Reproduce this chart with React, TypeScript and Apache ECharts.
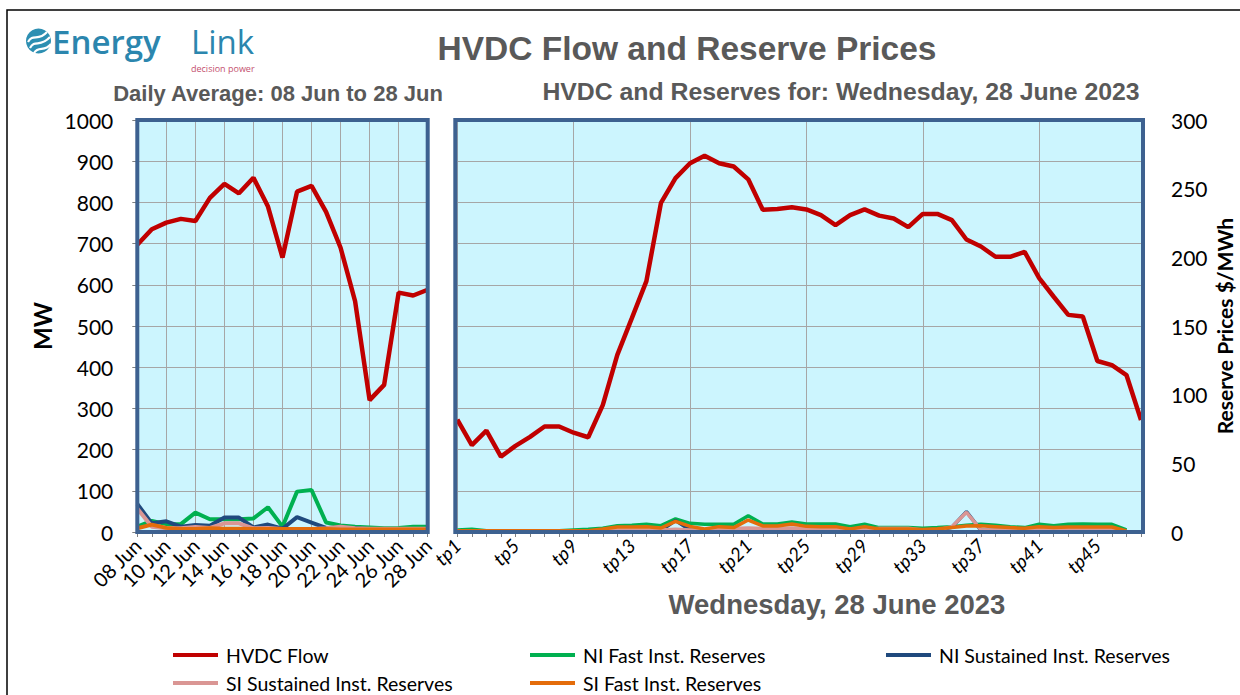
import React, { useEffect, useRef } from 'react';
import * as echarts from 'echarts';

const dailyDates = ['08 Jun', '09 Jun', '10 Jun', '11 Jun', '12 Jun', '13 Jun', '14 Jun', '15 Jun', '16 Jun', '17 Jun', '18 Jun', '19 Jun', '20 Jun', '21 Jun', '22 Jun', '23 Jun', '24 Jun', '25 Jun', '26 Jun', '27 Jun', '28 Jun'];
const dailyHvdcFlow = [697, 735, 751, 760, 755, 811, 845, 822, 860, 790, 666, 826, 840, 777, 690, 560, 320, 357, 581, 574, 588];
const dailyNiFast = [13, 27, 19, 19, 47, 31, 31, 31, 33, 60, 13, 98, 102, 23, 16, 13, 11, 9, 10, 13, 13];
const dailyNiSustained = [68, 21, 26, 13, 17, 15, 35, 35, 11, 18, 8, 36, 23, 10, 11, 9, 7, 7, 7, 7, 7];
const dailySiSustained = [57, 13, 9, 9, 12, 10, 21, 21, 9, 10, 7, 7, 7, 9, 13, 9, 8, 8, 8, 8, 8];
const dailySiFast = [9, 18, 10, 7, 7, 9, 8, 8, 7, 7, 7, 7, 7, 7, 6, 6, 6, 6, 6, 6, 6];

const tradingPeriods = ['tp1', 'tp2', 'tp3', 'tp4', 'tp5', 'tp6', 'tp7', 'tp8', 'tp9', 'tp10', 'tp11', 'tp12', 'tp13', 'tp14', 'tp15', 'tp16', 'tp17', 'tp18', 'tp19', 'tp20', 'tp21', 'tp22', 'tp23', 'tp24', 'tp25', 'tp26', 'tp27', 'tp28', 'tp29', 'tp30', 'tp31', 'tp32', 'tp33', 'tp34', 'tp35', 'tp36', 'tp37', 'tp38', 'tp39', 'tp40', 'tp41', 'tp42', 'tp43', 'tp44', 'tp45', 'tp46', 'tp47', 'tp48'];
const tpHvdcFlow = [273, 211, 246, 183, 209, 231, 256, 256, 241, 230, 308, 430, 519, 609, 799, 859, 895, 913, 895, 887, 856, 782, 784, 788, 783, 769, 745, 769, 783, 768, 761, 740, 772, 772, 757, 710, 693, 668, 668, 680, 616, 571, 527, 523, 415, 405, 381, 272];
const tpNiFast = [1.5, 2, 1, 1, 1, 1, 1, 1, 1.5, 2, 2.7, 4.6, 5, 5.6, 4.6, 9.5, 6.3, 5.6, 5.6, 5.6, 11.9, 5.8, 5.8, 7.3, 5.8, 5.8, 5.8, 3.9, 5.6, 3.2, 3.2, 3.2, 2.7, 3.2, 3.9, 5, 5.6, 4.9, 3.9, 3.2, 5.6, 4.6, 5.6, 5.8, 5.6, 5.6, 1.5];
const tpNiSustained = [0.5, 0.5, 0.5, 0.5, 0.5, 0.5, 0.5, 0.5, 0.5, 0.5, 0.5, 1, 1, 1, 1, 8.3, 1.5, 1.5, 1.5, 1.5, 2, 1.5, 1.5, 1.5, 1.5, 1.5, 1.5, 1.5, 1.5, 1.5, 1.5, 1.5, 1.2, 1.2, 3.5, 14.8, 1.2, 1.2, 1.2, 1.2, 1.2, 1.2, 1.2, 1.2, 1.2, 1.2, 0.5];
const tpSiSustained = [0.5, 0.5, 0.5, 0.5, 0.5, 0.5, 0.5, 0.5, 0.5, 0.5, 0.5, 1.5, 1.5, 1.5, 1.5, 2, 1.5, 1.5, 2, 2.5, 3, 2.5, 2.5, 3, 2.5, 2.5, 2, 2.2, 1.5, 2.7, 2.7, 2.7, 1.5, 1.5, 3.9, 14.3, 1.5, 1.5, 1.5, 1.5, 1.9, 1.5, 1.9, 2.2, 2.2, 1.9, 0.7];
const tpSiFast = [1, 1, 1, 1, 1, 1, 1, 1, 1, 1, 2.2, 3.6, 3.6, 3.9, 2.9, 7.8, 4.1, 2.2, 3.9, 3.2, 8.7, 4.4, 4.4, 5.8, 4.1, 3.9, 3.9, 2.2, 3.9, 2.2, 2.2, 2.2, 1.9, 2.4, 3.2, 4.4, 4.6, 3.9, 3.2, 2.7, 3.9, 3.2, 3.6, 3.6, 3.6, 3.6, 0.7];

const seriesNames = ['HVDC Flow', 'NI Fast Inst. Reserves', 'NI Sustained Inst. Reserves', 'SI Sustained Inst. Reserves', 'SI Fast Inst. Reserves'];
const seriesColors = ['#C00000', '#00B050', '#1F497D', '#DA9694', '#E46C0A'];

const GRAY = '#595959';
const GRID_LINE = '#A6A6A6';
const PLOT_BG = '#CCF5FE';
const BORDER = '#3D6190';
const NUM_FONT = 'Lato';

const L = { left: 137.3, top: 120, width: 290.4, height: 412 };
const R = { left: 457.3, top: 120, width: 683.7, height: 412 };

const plain = (v: number) => String(v);

function buildOption() {
  const lineSeries = (name: string, color: string, data: number[], xi: number, yi: number, width: number) => ({
    type: 'line',
    name,
    data,
    xAxisIndex: xi,
    yAxisIndex: yi,
    symbol: 'none',
    showSymbol: false,
    color,
    lineStyle: { color, width },
    z: 3,
  });

  const legendBase = {
    icon: 'rect',
    itemWidth: 45,
    itemHeight: 4,
    padding: 0,
    selectedMode: false,
    textStyle: { fontFamily: NUM_FONT, fontSize: 19.5, lineHeight: 14, color: '#000', padding: [0, 0, 0, 3] },
  };

  return {
    animation: false,
    backgroundColor: '#fff',
    title: [
      {
        text: 'HVDC Flow and Reserve Prices', left: 687, top: 31, textAlign: 'center', padding: 0,
        textStyle: { fontFamily: 'Liberation Sans', fontWeight: 'bold', fontSize: 33.5, color: GRAY },
      },
      {
        text: 'Daily Average: 08 Jun to 28 Jun', left: 278, top: 82, textAlign: 'center', padding: 0,
        textStyle: { fontFamily: 'Liberation Sans', fontWeight: 'bold', fontSize: 22, color: GRAY },
      },
      {
        text: 'HVDC and Reserves for: Wednesday, 28 June 2023', left: 841, top: 79, textAlign: 'center', padding: 0,
        textStyle: { fontFamily: 'Liberation Sans', fontWeight: 'bold', fontSize: 24.8, color: GRAY },
      },
      {
        text: 'Wednesday, 28 June 2023', left: 837, top: 590, textAlign: 'center', padding: 0,
        textStyle: { fontFamily: 'Liberation Sans', fontWeight: 'bold', fontSize: 27.5, color: GRAY },
      },
    ],
    legend: [
      { ...legendBase, data: [seriesNames[0]], left: 173, top: 645 },
      { ...legendBase, data: [seriesNames[1]], left: 530, top: 645 },
      { ...legendBase, data: [seriesNames[2]], left: 886, top: 645 },
      { ...legendBase, data: [seriesNames[3]], left: 173, top: 673 },
      { ...legendBase, data: [seriesNames[4]], left: 530, top: 673 },
    ],
    grid: [
      { ...L, show: true, backgroundColor: PLOT_BG, borderWidth: 0, outerBoundsMode: 'none', containLabel: false },
      { ...R, show: true, backgroundColor: PLOT_BG, borderWidth: 0, outerBoundsMode: 'none', containLabel: false },
    ],
    xAxis: [
      {
        type: 'category', gridIndex: 0, data: dailyDates, boundaryGap: false,
        axisLine: { show: false },
        axisTick: { show: true, interval: 0, length: 5, lineStyle: { color: '#7F7F7F' } },
        axisLabel: { interval: 1, rotate: 45, fontFamily: NUM_FONT, fontSize: 20, color: '#000', margin: 10 },
        splitLine: { show: true, interval: 1, lineStyle: { color: GRID_LINE, width: 1 } },
      },
      {
        type: 'category', gridIndex: 1, data: tradingPeriods, boundaryGap: false,
        axisLine: { show: false },
        axisTick: { show: true, interval: 0, length: 5, lineStyle: { color: '#7F7F7F' } },
        axisLabel: { interval: 3, rotate: 45, fontFamily: NUM_FONT, fontStyle: 'italic', fontSize: 19, color: '#000', margin: 10 },
        splitLine: { show: true, interval: 7, lineStyle: { color: GRID_LINE, width: 1 } },
      },
    ],
    yAxis: [
      {
        type: 'value', gridIndex: 0, min: 0, max: 1000, interval: 100,
        axisLine: { show: false },
        axisTick: { show: true, length: 5, lineStyle: { color: '#7F7F7F' } },
        axisLabel: { fontFamily: NUM_FONT, fontSize: 21, color: '#000', margin: 24, formatter: plain },
        splitLine: { show: true, lineStyle: { color: GRID_LINE, width: 1 } },
        name: 'MW', nameLocation: 'middle', nameGap: 83,
        nameTextStyle: { fontFamily: NUM_FONT, fontWeight: 'bold', fontSize: 24, color: '#000' },
      },
      {
        type: 'value', gridIndex: 1, min: 0, max: 1000, interval: 100,
        axisLine: { show: false },
        axisTick: { show: false },
        axisLabel: { show: false },
        splitLine: { show: true, lineStyle: { color: GRID_LINE, width: 1 } },
      },
      {
        type: 'value', gridIndex: 1, position: 'right', min: 0, max: 300, interval: 50,
        axisLine: { show: false },
        axisTick: { show: false },
        axisLabel: { fontFamily: NUM_FONT, fontSize: 21, color: '#000', margin: 30, formatter: plain },
        splitLine: { show: false },
        name: 'Reserve Prices $/MWh', nameLocation: 'middle', nameGap: 73, nameMoveOverlap: false,
        nameTextStyle: { fontFamily: NUM_FONT, fontWeight: 'bold', fontSize: 21, color: '#000' },
      },
    ],
    series: [
      lineSeries(seriesNames[0], seriesColors[0], dailyHvdcFlow, 0, 0, 4.5),
      lineSeries(seriesNames[1], seriesColors[1], dailyNiFast, 0, 0, 4),
      lineSeries(seriesNames[2], seriesColors[2], dailyNiSustained, 0, 0, 4),
      lineSeries(seriesNames[3], seriesColors[3], dailySiSustained, 0, 0, 4),
      lineSeries(seriesNames[4], seriesColors[4], dailySiFast, 0, 0, 4),
      lineSeries(seriesNames[0], seriesColors[0], tpHvdcFlow, 1, 1, 4.5),
      lineSeries(seriesNames[1], seriesColors[1], tpNiFast, 1, 2, 3.5),
      lineSeries(seriesNames[2], seriesColors[2], tpNiSustained, 1, 2, 3.5),
      lineSeries(seriesNames[3], seriesColors[3], tpSiSustained, 1, 2, 3.5),
      lineSeries(seriesNames[4], seriesColors[4], tpSiFast, 1, 2, 3.5),
    ],
    graphic: [
      {
        type: 'rect', z: 100, silent: true,
        shape: { x: 7, y: 10, width: 1260, height: 720 },
        style: { fill: 'none', stroke: '#000', lineWidth: 1.5 },
      },
      {
        type: 'rect', z: 100, silent: true,
        shape: { x: L.left, y: L.top, width: L.width, height: L.height },
        style: { fill: 'none', stroke: BORDER, lineWidth: 4 },
      },
      {
        type: 'rect', z: 100, silent: true,
        shape: { x: R.left - 2, y: R.top, width: R.width + 4, height: R.height },
        style: { fill: 'none', stroke: BORDER, lineWidth: 4 },
      },
      // logo
      { type: 'circle', z: 100, shape: { cx: 38.5, cy: 41, r: 12.5 }, style: { fill: '#2D8FB2' } },
      {
        type: 'bezierCurve', z: 101,
        shape: { x1: 28, y1: 42, cpx1: 33, cpy1: 33, cpx2: 38, cpy2: 42, x2: 47, y2: 32 },
        style: { stroke: '#fff', lineWidth: 2.2, fill: 'none' },
      },
      {
        type: 'bezierCurve', z: 101,
        shape: { x1: 30, y1: 48, cpx1: 35, cpy1: 39, cpx2: 40, cpy2: 48, x2: 50, y2: 37 },
        style: { stroke: '#fff', lineWidth: 2.2, fill: 'none' },
      },
      {
        type: 'bezierCurve', z: 101,
        shape: { x1: 34, y1: 53, cpx1: 39, cpy1: 45, cpx2: 44, cpy2: 53, x2: 51, y2: 44 },
        style: { stroke: '#fff', lineWidth: 2.2, fill: 'none' },
      },
      {
        type: 'text', z: 100, x: 52, y: 41,
        style: { text: 'Energy', font: '600 33px "Open Sans"', fill: '#2B86AE', textAlign: 'left', textVerticalAlign: 'middle' },
      },
      {
        type: 'text', z: 100, x: 191, y: 41,
        style: { text: 'Link', font: '400 33px "Open Sans"', fill: '#2B86AE', textAlign: 'left', textVerticalAlign: 'middle' },
      },
      {
        type: 'text', z: 100, x: 191, y: 68,
        style: { text: 'decision power', font: '400 9px "Open Sans"', fill: '#C4506E', textAlign: 'left', textVerticalAlign: 'middle' },
      },
    ],
  };
}

export default function App() {
  const ref = useRef<HTMLDivElement>(null);
  useEffect(() => {
    if (!ref.current) return;
    const chart = echarts.init(ref.current, null, { renderer: 'svg' });
    chart.setOption(buildOption() as any);
    return () => chart.dispose();
  }, []);
  return (
    <div
      ref={ref}
      style={{ position: 'absolute', left: 0, top: 0, width: 1240, height: 695, background: '#fff' }}
    />
  );
}
